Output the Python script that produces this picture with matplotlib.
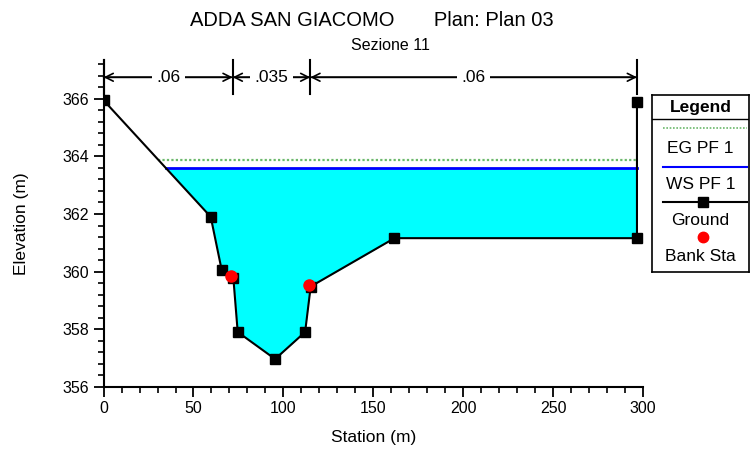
import numpy as np
import matplotlib
matplotlib.use("Agg")
import matplotlib.pyplot as plt
from matplotlib.ticker import MultipleLocator

plt.rcParams['font.family'] = ['Liberation Sans', 'DejaVu Sans']

# ---- data ----
ground_x = [0.0, 59.6, 65.7, 72.2, 74.6, 95.4, 112.1, 115.2, 161.8, 296.7, 296.7]
ground_y = [365.95, 361.9, 360.05, 359.76, 357.9, 356.96, 357.9, 359.48, 361.16, 361.16, 365.9]
bank_x = [70.8, 114.4]
bank_y = [359.83, 359.54]
ws_elev = 363.6
eg_elev = 363.88
n_breaks = [0.0, 71.8, 115.0, 296.7]
n_values = [".06", ".035", ".06"]
title_main = "ADDA SAN GIACOMO       Plan: Plan 03"
title_sub = "Sezione 11"

fig = plt.figure(figsize=(7.52, 4.55), dpi=100)
ax = fig.add_axes([103.6/752, 68.3/455, (642.9-103.6)/752, (386.7-60)/455])

gx = np.array(ground_x)
gy = np.array(ground_y)

def left_cross(elev):
    return np.interp(elev, gy[:2][::-1], gx[:2][::-1])

x_ws = left_cross(ws_elev)
x_eg = left_cross(eg_elev)

ax.fill_between(gx, gy, ws_elev, where=gy < ws_elev, interpolate=True,
                color='#00FFFF', linewidth=0, zorder=1)
ax.plot([x_eg, gx[-1]], [eg_elev, eg_elev], color='#6BB86B', lw=1.6, ls=(0, (1, 1)), zorder=2)
ax.plot([x_ws, gx[-1]], [ws_elev, ws_elev], color='#0000FF', lw=2.0, zorder=3)
ax.plot(gx, gy, color='black', lw=1.5, marker='s', ms=6.5, mfc='black', mec='black', zorder=4)
ax.plot(bank_x, bank_y, ls='none', marker='o', ms=8, mfc='red', mec='red', zorder=5)

ax.set_xlim(0, 300)
ax.set_ylim(356, 367.35)

top = 367.35
bot = 366.17
arr_y = 366.75
for xb in n_breaks:
    ax.plot([xb, xb], [bot, top], color='black', lw=1.5, clip_on=False, zorder=6)
for i, nv in enumerate(n_values):
    x0, x1 = n_breaks[i], n_breaks[i + 1]
    for a, b in ((x0, x1), (x1, x0)):
        ax.annotate('', xy=(b, arr_y), xytext=(a, arr_y),
                    arrowprops=dict(arrowstyle='->', color='black', lw=1.2,
                                    shrinkA=0, shrinkB=0, mutation_scale=14),
                    zorder=6)
    ax.text((x0 + x1) / 2, arr_y, nv, ha='center', va='center', fontsize=12.5,
            bbox=dict(boxstyle='square,pad=0.25', fc='white', ec='none'), zorder=7)

for s in ['top', 'right']:
    ax.spines[s].set_visible(False)
for s in ['left', 'bottom']:
    ax.spines[s].set_linewidth(1.5)
ax.xaxis.set_major_locator(MultipleLocator(50))
ax.xaxis.set_minor_locator(MultipleLocator(10))
ax.yaxis.set_major_locator(MultipleLocator(2))
ax.yaxis.set_minor_locator(MultipleLocator(0.4))
ax.tick_params(which='major', length=7, width=1.3, labelsize=11.5, direction='out')
ax.tick_params(which='minor', length=4, width=1.2, direction='out')
ax.set_xlabel('Station (m)', fontsize=12.5, labelpad=10)
ax.set_ylabel('Elevation (m)', fontsize=12.5, labelpad=24)

fig.text(372/752, 1 - 20/455, title_main, ha='center', va='center', fontsize=14.5)
fig.text(390/752, 1 - 45/455, title_sub, ha='center', va='center', fontsize=11.5)

# legend (manual box)
lx0, lx1, ly0, ly1 = 651.7, 749, 95, 272
lax = fig.add_axes([lx0/752, 1 - ly1/455, (lx1-lx0)/752, (ly1-ly0)/455])
lax.set_xlim(lx0, lx1)
lax.set_ylim(ly1, ly0)
lax.set_xticks([]); lax.set_yticks([])
for s in lax.spines.values():
    s.set_linewidth(1.2)
cx = (lx0 + lx1) / 2
lax.text(cx, 108, 'Legend', ha='center', va='center', fontsize=12.5, fontweight='bold')
lax.plot([lx0, lx1], [119.5, 119.5], color='black', lw=1.0)
lax.plot([663, 747], [128.5, 128.5], color='#6BB86B', lw=1.2, ls=(0, (1, 1)))
lax.text(cx, 149, 'EG PF 1', ha='center', va='center', fontsize=12.5)
lax.plot([663, 747], [166.7, 166.7], color='#0000FF', lw=1.5)
lax.text(cx, 185, 'WS PF 1', ha='center', va='center', fontsize=12.5)
lax.plot([663, 747], [202.3, 202.3], color='black', lw=1.5)
lax.plot([703], [202.3], marker='s', ms=6.5, color='black')
lax.text(cx, 221, 'Ground', ha='center', va='center', fontsize=12.5)
lax.plot([703], [236.7], marker='o', ms=7.5, color='red')
lax.text(cx, 257, 'Bank Sta', ha='center', va='center', fontsize=12.5)

fig.savefig('out.png', dpi=100)
